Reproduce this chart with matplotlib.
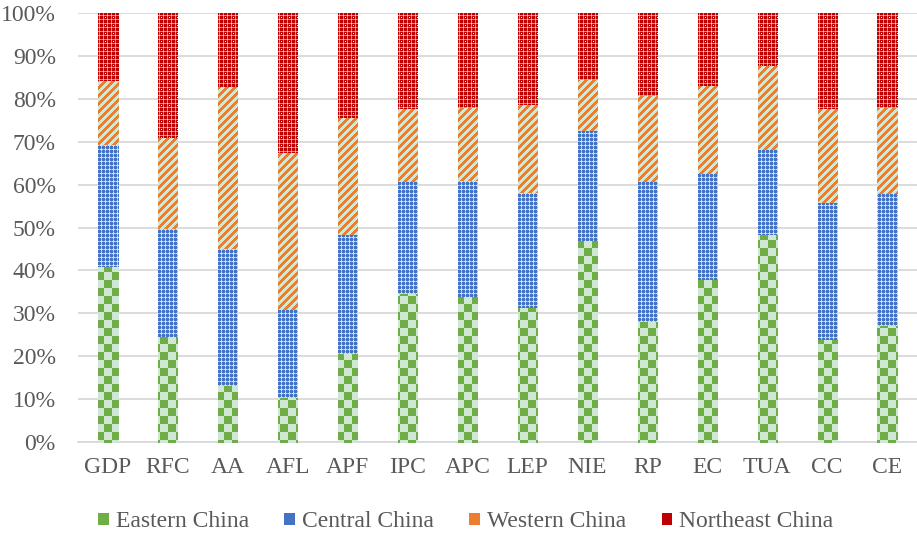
import numpy as np
import matplotlib.pyplot as plt
from matplotlib.patches import Patch

categories = ['GDP', 'RFC', 'AA', 'AFL', 'APF', 'IPC', 'APC', 'LEP',
              'NIE', 'RP', 'EC', 'TUA', 'CC', 'CE']
regions = ['Eastern China', 'Central China', 'Western China', 'Northeast China']

# regional shares of each indicator (%)
eastern = [41.1, 24.7, 13.3, 10.6, 20.7, 34.7, 34.0, 31.5, 47.2, 28.3, 37.9, 48.4, 23.9, 27.3]
central = [28.4, 25.3, 32.0, 20.3, 27.9, 26.1, 27.1, 26.7, 25.5, 32.5, 24.7, 19.9, 32.1, 30.7]
western = [14.9, 21.2, 37.7, 36.8, 27.1, 17.0, 17.1, 20.5, 11.9, 20.1, 20.6, 19.6, 21.8, 20.2]
northeast = [15.6, 28.8, 17.0, 32.3, 24.3, 22.2, 21.8, 21.3, 15.4, 19.1, 16.8, 12.1, 22.2, 21.8]

BG = np.array([207, 232, 211]) / 255.0


def hexrgb(h):
    return np.array([int(h[i:i + 2], 16) for i in (1, 3, 5)]) / 255.0


GREEN = hexrgb('#70ad47')
BLUE = hexrgb('#4472c4')
ORANGE = hexrgb('#ed7d31')
RED = hexrgb('#c00000')
PINK = hexrgb('#e08a8a')
LBLUE = hexrgb('#8fb0de')


def pattern(kind, h, w):
    # pixel-level fill pattern, like an office pattern fill
    yy, xx = np.mgrid[0:h, 0:w]
    img = np.empty((h, w, 3))
    img[:] = BG
    if kind == 'checker':
        m = ((xx // 8) + (yy // 8)) % 2 == 0
        img[m] = GREEN
    elif kind == 'lattice':
        a, b = xx % 4, yy % 4
        img[:] = BLUE
        img[(a == 1) | (b == 1)] = LBLUE
        img[((a == 1) & (b <= 2)) | ((b == 1) & (a <= 2))] = BG
    elif kind == 'stripes':
        m = (xx + yy) % 8 < 4
        img[m] = ORANGE
    elif kind == 'smallcheck':
        a, b = xx % 4, yy % 4
        img[:] = RED
        img[(a == 3) ^ (b == 3)] = PINK
        img[(a == 3) & (b == 3)] = BG
        img[(xx % 8 == 1) & (yy % 8 == 1)] = BG
    return (img * 255).astype(np.uint8)


plt.rcParams['font.family'] = ['Liberation Serif', 'DejaVu Serif']
FW, FH = 917, 537
fig = plt.figure(figsize=(FW / 100, FH / 100), dpi=100)
ax = fig.add_axes([78 / FW, 95 / FH, 839 / FW, 429 / FH])

x = np.arange(len(categories))
series = [eastern, central, western, northeast]
kinds = ['checker', 'lattice', 'stripes', 'smallcheck']
colors = [GREEN, BLUE, ORANGE, RED]

ax.set_xlim(-0.5, len(categories) - 0.5)
ax.set_ylim(0, 100)

# each bar is filled by a figure-sized pattern image clipped to the bar,
# so the tiles sit exactly on the pixel grid
bottom = np.zeros(len(categories))
for vals, kind in zip(series, kinds):
    bars = ax.bar(x, vals, width=0.32, bottom=bottom, facecolor='none',
                  edgecolor='none', zorder=2)
    img = pattern(kind, FH, FW)
    for b in bars:
        im = fig.figimage(img, 0, 0, origin='upper', zorder=1)
        im.set_clip_path(b)
    bottom += np.array(vals)

ax.set_yticks(np.arange(0, 101, 10))
ax.set_yticklabels([f'{v}%' for v in range(0, 101, 10)])
ax.set_xticks(x)
ax.set_xticklabels(categories)
ax.yaxis.grid(True, color='#d9d9d9', linewidth=1.3, zorder=0)
ax.set_axisbelow(True)
for s in ['top', 'right', 'left']:
    ax.spines[s].set_visible(False)
ax.spines['bottom'].set_color('#d9d9d9')
ax.spines['bottom'].set_linewidth(1.3)
ax.tick_params(axis='both', length=0, labelsize=17, labelcolor='#595959')
ax.tick_params(axis='y', pad=16)
ax.tick_params(axis='x', pad=11)

handles = [Patch(facecolor=c, edgecolor='none', linewidth=0) for c in colors]
fig.legend(handles, regions, loc='center', bbox_to_anchor=(0.508, 0.028), ncol=4,
           frameon=False, fontsize=17, labelcolor='#595959', handlelength=0.45,
           handleheight=0.45, handletextpad=0.3, columnspacing=1.5)

plt.savefig('out.png', dpi=100)
